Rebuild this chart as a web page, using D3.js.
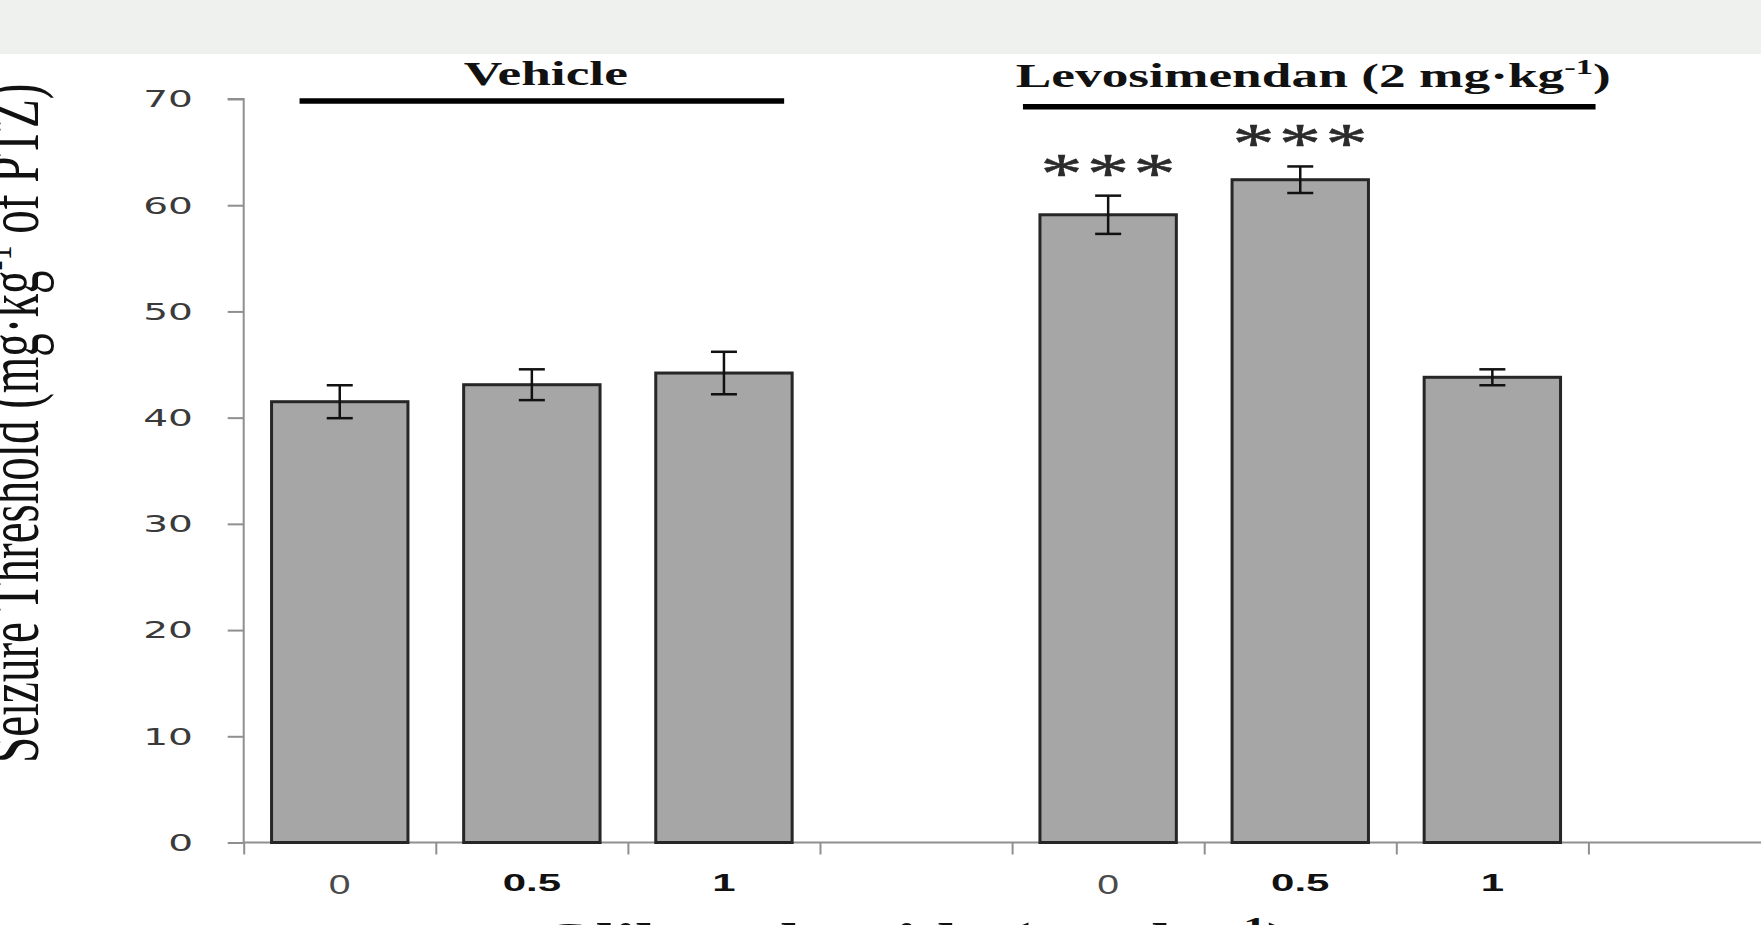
<!DOCTYPE html>
<html>
<head>
<meta charset="utf-8">
<script src="https://cdn.jsdelivr.net/npm/d3@7"></script>
<style>
  body { margin: 0; background: #fff; }
  svg { display: block; }
</style>
</head>
<body>
<svg id="chart"></svg>
<script>
// data
var doseLabels = ["0", "0.5", "1"];
var vehicleMeans = [41.5, 43.1, 44.2];
var vehicleSem = [1.55, 1.45, 2.0];
var levoMeans = [59.1, 62.4, 43.8];
var levoSem = [1.8, 1.25, 0.75];
var levoStars = ["***", "***", ""];
var yTicks = [0, 10, 20, 30, 40, 50, 60, 70];
var slots = ["veh-0", "veh-0.5", "veh-1", "gap", "lev-0", "lev-0.5", "lev-1", "pad-a", "pad-b"];

var width = 1761, height = 925;
var stretch = 1.57; // the source picture is stretched sideways

var svg = d3.select("#chart")
  .attr("width", width)
  .attr("height", height);

// grey band at the top of the screenshot
svg.append("rect")
  .attr("x", 0).attr("y", 0)
  .attr("width", width).attr("height", 54)
  .attr("fill", "#eff1ee");

var y = d3.scaleLinear()
  .domain([0, 70])
  .range([842.5, 99]);

var x = d3.scaleBand()
  .domain(slots)
  .range([243.7, 243.7 + 9 * 192.1])
  .paddingInner(0.29)
  .paddingOuter(0.145);

var xEdge = d3.scaleLinear()
  .domain([0, slots.length])
  .range(x.range());

// bar rows built from the arrays
var bars = [];
doseLabels.forEach(function(d, i) {
  bars.push({slot: "veh-" + d, label: d, mean: vehicleMeans[i], sem: vehicleSem[i], stars: ""});
});
doseLabels.forEach(function(d, i) {
  bars.push({slot: "lev-" + d, label: d, mean: levoMeans[i], sem: levoSem[i], stars: levoStars[i]});
});

// AXES //
var yAxis = svg.append("g")
  .attr("transform", "translate(" + x.range()[0] + ",0)")
  .call(d3.axisLeft(y).tickValues(yTicks).tickSize(16).tickFormat(""));

var xAxis = svg.append("g")
  .attr("transform", "translate(0," + y(0) + ")")
  .call(d3.axisBottom(xEdge).tickValues(d3.range(0, slots.length + 1)).tickSize(12).tickFormat(""));

[yAxis, xAxis].forEach(function(g) {
  g.select(".domain").attr("stroke", "#8f8f8f").attr("stroke-width", 2);
  g.selectAll(".tick line").attr("stroke", "#8f8f8f").attr("stroke-width", 2);
});
xAxis.select(".domain").attr("d", "M" + x.range()[0] + ",0H" + width);
yAxis.select(".domain").attr("d", "M-16," + y(70) + "H0V" + y(0));

svg.append("g").selectAll("text")
  .data(yTicks)
  .enter().append("text")
    .attr("transform", function(d) { return "translate(193," + y(d) + ") scale(1.7,1)"; })
    .attr("text-anchor", "end")
    .attr("dy", "0.36em")
    .style("font-family", "'DejaVu Sans', sans-serif")
    .style("font-size", "23px")
    .style("fill", "#3a3a3a")
    .text(function(d) { return d; });

// BARS //
var barGroup = svg.append("g");

barGroup.selectAll("rect")
  .data(bars)
  .enter().append("rect")
    .attr("x", function(d) { return x(d.slot); })
    .attr("y", function(d) { return y(d.mean); })
    .attr("width", x.bandwidth())
    .attr("height", function(d) { return y(0) - y(d.mean); })
    .attr("fill", "#a6a6a6")
    .attr("stroke", "#262626")
    .attr("stroke-width", 3);

var err = barGroup.selectAll(".err")
  .data(bars)
  .enter().append("g")
    .attr("class", "err")
    .attr("stroke", "#111")
    .attr("stroke-width", 2.5);

err.append("line")
  .attr("x1", function(d) { return x(d.slot) + x.bandwidth() / 2; })
  .attr("x2", function(d) { return x(d.slot) + x.bandwidth() / 2; })
  .attr("y1", function(d) { return y(d.mean + d.sem); })
  .attr("y2", function(d) { return y(d.mean - d.sem); });

[1, -1].forEach(function(s) {
  err.append("line")
    .attr("x1", function(d) { return x(d.slot) + x.bandwidth() / 2 - 13; })
    .attr("x2", function(d) { return x(d.slot) + x.bandwidth() / 2 + 13; })
    .attr("y1", function(d) { return y(d.mean + s * d.sem); })
    .attr("y2", function(d) { return y(d.mean + s * d.sem); });
});

// significance stars
barGroup.selectAll(".stars")
  .data(bars.filter(function(d) { return d.stars; }))
  .enter().append("text")
    .attr("class", "stars")
    .attr("transform", function(d) {
      return "translate(" + (x(d.slot) + x.bandwidth() / 2 + 2) + "," + (y(d.mean + d.sem) - 3) + ") scale(1.5,1)";
    })
    .attr("text-anchor", "middle")
    .style("letter-spacing", "3px")
    .style("font-family", "'Liberation Serif', serif")
    .style("font-size", "56px")
    .style("fill", "#2b2b2b")
    .style("stroke", "#2b2b2b")
    .style("stroke-width", 0.6)
    .text(function(d) { return d.stars; });

// dose labels under the bars: first one grey, others bold
svg.append("g").selectAll("text")
  .data(bars)
  .enter().append("text")
    .attr("transform", function(d) {
      var cx = x(d.slot) + x.bandwidth() / 2;
      return d.label === "0" ? "translate(" + cx + ",894) scale(1.45,1)" : "translate(" + cx + ",891) scale(1.75,1)";
    })
    .attr("text-anchor", "middle")
    .style("font-family", "'Liberation Sans', Arial, sans-serif")
    .style("font-size", function(d) { return d.label === "0" ? "27px" : "24px"; })
    .style("font-weight", function(d) { return d.label === "0" ? "normal" : "bold"; })
    .style("fill", function(d) { return d.label === "0" ? "#4a4a4a" : "#111"; })
    .text(function(d) { return d.label; });

// GROUP LABELS //
var groupLines = [
  {name: "Vehicle", x1: x("veh-0") + 28, x2: x("veh-1") + x.bandwidth() - 8, y: 101, base: 85},
  {name: "Levosimendan (2 mg\u00b7kg", sup: "-1", tail: ")", x1: x("lev-0") - 17, x2: x("lev-1") + x.bandwidth() + 35, y: 106.7, base: 87}
];

groupLines.forEach(function(g) {
  svg.append("line")
    .attr("x1", g.x1).attr("x2", g.x2)
    .attr("y1", g.y).attr("y2", g.y)
    .attr("stroke", "#000")
    .attr("stroke-width", 5.5);

  var t = svg.append("text")
    .attr("transform", "translate(" + ((g.x1 + g.x2) / 2 + 4) + "," + g.base + ") scale(" + stretch + ",1)")
    .attr("text-anchor", "middle")
    .style("font-family", "'Liberation Serif', serif")
    .style("font-weight", "bold")
    .style("font-size", "34px")
    .style("fill", "#111");
  t.append("tspan").text(g.name);
  if (g.sup) {
    t.append("tspan").attr("dy", -13).style("font-size", "22px").text(g.sup);
    t.append("tspan").attr("dy", 13).text(g.tail);
  }
});

// AXIS TITLES //
var yTitle = svg.append("text")
  .attr("transform", "translate(38,763) scale(" + stretch + ",1) rotate(-90)")
  .style("font-family", "'Liberation Serif', serif")
  .style("font-size", "47px")
  .style("fill", "#111");
yTitle.append("tspan").text("Seizure Threshold (mg\u00b7kg");
yTitle.append("tspan").attr("dy", -17).style("font-size", "30px").text("-1");
yTitle.append("tspan").attr("dy", 17).text(" of PTZ)");

var xTitle = svg.append("text")
  .attr("transform", "translate(915,955) scale(" + stretch + ",1)")
  .attr("text-anchor", "middle")
  .style("font-family", "'Liberation Serif', serif")
  .style("font-weight", "bold")
  .style("font-size", "46px")
  .style("fill", "#111");
xTitle.append("tspan").text("Glibenclamide (mg\u00b7kg");
xTitle.append("tspan").attr("dy", -18).style("font-size", "30px").text("-1");
xTitle.append("tspan").attr("dy", 18).text(")");
</script>
</body>
</html>
